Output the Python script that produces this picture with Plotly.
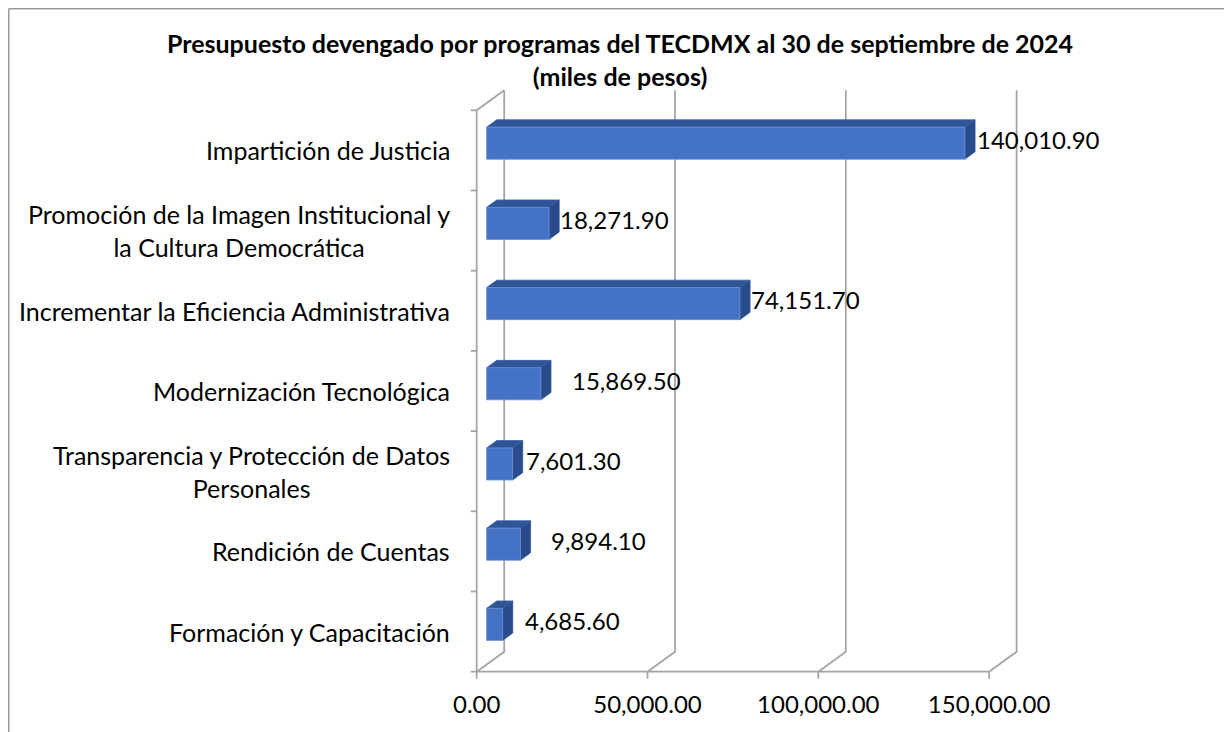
import plotly.graph_objects as go

programas = [
    "Impartición de Justicia",
    "Promoción de la Imagen Institucional y<br>la Cultura Democrática",
    "Incrementar la Eficiencia Administrativa",
    "Modernización Tecnológica",
    "Transparencia y Protección de Datos<br>Personales",
    "Rendición de Cuentas",
    "Formación y Capacitación",
]
devengado = [140010.90, 18271.90, 74151.70, 15869.50, 7601.30, 9894.10, 4685.60]
x_ticks = [0, 50000, 100000, 150000]

titulo = ("Presupuesto devengado por programas del TECDMX al 30 de septiembre de 2024"
          "<br>(miles de pesos)")

# page / plot geometry (pixels, figure coords; the page adds an 8px body margin)
W, H = 1232, 732
ML, MR, MT, MB = 459, 190, 72, 58
PX_X = 170.8 / 50000     # pixels per peso-unit on x
PX_Y = 80.2              # pixels per category band
X0_PX, Y0_PX = 468.7, 663.7   # where (0, 0) of the front plane sits

plot_w = W - ML - MR
plot_h = H - MT - MB
x_lo = -(X0_PX - ML) / PX_X
x_range = [x_lo, x_lo + plot_w / PX_X]
y_lo = -((H - MB) - Y0_PX) / PX_Y
y_range = [y_lo, y_lo + plot_h / PX_Y]

# fake 3d: oblique offset of the back wall, bar depth placement
DX = 27.5 / PX_X
DY = 20 / PX_Y
F0, F1 = 0.36, 0.73
BAR = 0.4

n = len(programas)
centers = [n - 1 - i + 0.5 for i in range(n)]

GRID = "#a3a3a3"
FONT = "Lato"

fig = go.Figure()

# walls, floor and gridlines
gx, gy = [], []
for t in x_ticks:
    gx += [t, t + DX, t + DX, None]
    gy += [0, DY, n + DY, None]
    gx += [t, t, None]
    gy += [0, -7 / PX_Y, None]
gx += [0, x_ticks[-1], None]
gy += [0, 0, None]
gx += [0, 0, DX, None]
gy += [0, n, n + DY, None]
for k in range(n + 1):
    gx += [-6 / PX_X, 0, None]
    gy += [k, k, None]
fig.add_trace(go.Scatter(x=gx, y=gy, mode="lines", line=dict(color=GRID, width=1.75),
                         hoverinfo="skip", showlegend=False))

# bar faces
fx, fy, tx, ty, sx, sy = [], [], [], [], [], []
for v, c in zip(devengado, centers):
    xf0, xf1 = F0 * DX, v + F0 * DX
    xb0, xb1 = F1 * DX, v + F1 * DX
    lf, hf = c - BAR / 2 + F0 * DY, c + BAR / 2 + F0 * DY
    lb, hb = c - BAR / 2 + F1 * DY, c + BAR / 2 + F1 * DY
    fx += [xf0, xf1, xf1, xf0, xf0, None]
    fy += [lf, lf, hf, hf, lf, None]
    tx += [xf0, xf1, xb1, xb0, xf0, None]
    ty += [hf, hf, hb, hb, hf, None]
    sx += [xf1, xb1, xb1, xf1, xf1, None]
    sy += [lf, lb, hb, hf, lf, None]

fig.add_trace(go.Scatter(x=tx, y=ty, fill="toself", fillcolor="#2F5597", mode="lines",
                         line=dict(color="#3A62A8", width=0.8), hoverinfo="skip", showlegend=False))
fig.add_trace(go.Scatter(x=sx, y=sy, fill="toself", fillcolor="#2A4B8A", mode="lines",
                         line=dict(color="#34589A", width=0.8), hoverinfo="skip", showlegend=False))
fig.add_trace(go.Scatter(x=fx, y=fy, fill="toself", fillcolor="#4472C4", mode="lines",
                         line=dict(color="#6A91D6", width=0.8), hoverinfo="skip", showlegend=False))

# value labels (Excel nudged a few of them)
label_nudge = [0, -1, -1, 19, 1, 18, 10]
annotations = []
for v, c, nudge in zip(devengado, centers, label_nudge):
    annotations.append(dict(
        x=v + F1 * DX, y=c + (F0 + F1) / 2 * DY, xref="x", yref="y",
        text=f"{v:,.2f}", showarrow=False, xanchor="left", yanchor="middle",
        xshift=nudge, font=dict(family=FONT, size=24, color="#000000")))

# category labels, centred lines, right edge next to the wall
for lab, c in zip(programas, centers):
    annotations.append(dict(
        x=0, y=c, xref="x", yref="y", text=lab, showarrow=False,
        xanchor="right", yanchor="middle", align="center", xshift=-25,
        font=dict(family=FONT, size=25, color="#000000")))

# chart frame (left and top edges only are visible)
def paper_x(px):
    return (px - ML) / plot_w


def paper_y(py):
    return 1 - (py - MT) / plot_h


frame = dict(type="line", xref="paper", yref="paper", line=dict(color="#9a9a9a", width=1.5))
shapes = [
    dict(frame, x0=paper_x(0.75), x1=paper_x(0.75), y0=paper_y(0.75), y1=paper_y(H + 5)),
    dict(frame, x0=paper_x(0.75), x1=paper_x(W + 5), y0=paper_y(0.75), y1=paper_y(0.75)),
]

fig.update_layout(
    width=W, height=H,
    margin=dict(l=ML, r=MR, t=MT, b=MB),
    paper_bgcolor="white", plot_bgcolor="white",
    title=dict(text=f"<b>{titulo}</b>", x=612 / W, xanchor="center", xref="container",
               y=1 - 45 / H, yanchor="top", yref="container",
               font=dict(family=FONT, size=25, color="#000000")),
    xaxis=dict(range=x_range, tickvals=x_ticks, tickformat=",.2f", ticks="",
               ticklabelstandoff=6,
               showgrid=False, zeroline=False, showline=False, automargin=False,
               tickfont=dict(family=FONT, size=24, color="#000000")),
    yaxis=dict(range=y_range, showticklabels=False, ticks="", showgrid=False,
               zeroline=False, showline=False, automargin=False),
    annotations=annotations,
    shapes=shapes,
    showlegend=False,
)

fig.write_html("out.html")
